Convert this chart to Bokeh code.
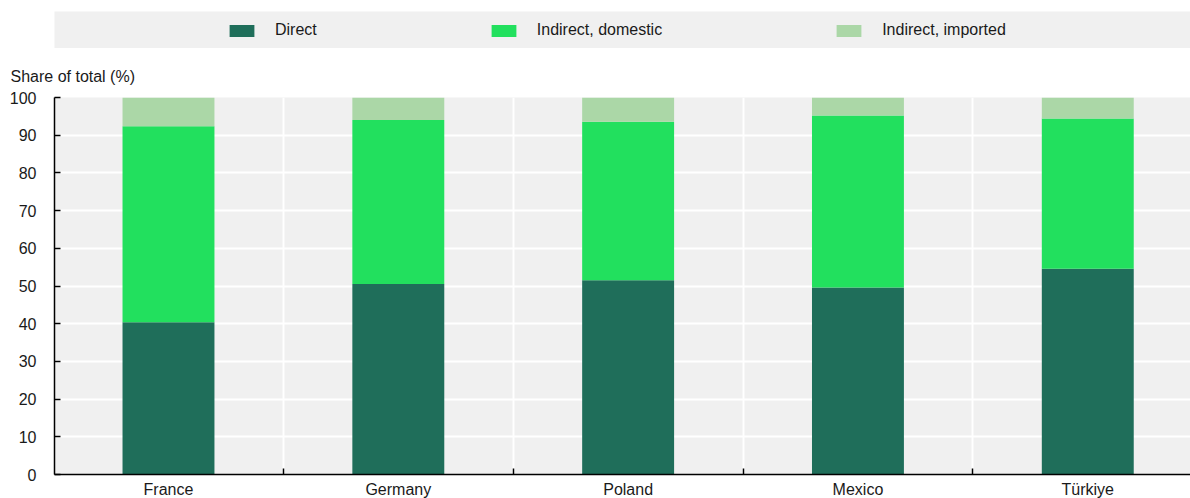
from bokeh.plotting import figure
from bokeh.models import (ColumnDataSource, Range1d, FixedTicker, Legend, Title)
from bokeh.layouts import column
from bokeh.embed import file_html
from bokeh.resources import INLINE

countries = ["France", "Germany", "Poland", "Mexico", "Türkiye"]
direct = [40.4, 50.5, 51.5, 49.6, 54.6]
indirect_domestic = [52.0, 43.5, 42.1, 45.6, 39.8]
indirect_imported = [7.6, 6.0, 6.4, 4.8, 5.6]
series_keys = ["direct", "domestic", "imported"]
series_labels = ["Direct", "Indirect, domestic", "Indirect, imported"]
colors = ["#1f6e5a", "#22e05e", "#abd7a7"]
y_ticks = list(range(0, 101, 10))

FONT = "Liberation Sans"
BG = "#f0f0f0"

xs = list(range(len(countries)))
source = ColumnDataSource(dict(x=xs, direct=direct, domestic=indirect_domestic,
                               imported=indirect_imported))

# ---- legend band figure (bars kept out of view; only the legend shows) ----
top = figure(width=1190, height=48, toolbar_location=None, output_backend="svg",
             min_border_left=54, min_border_right=0, min_border_top=11, min_border_bottom=0,
             x_range=Range1d(100, 101), y_range=Range1d(1000, 1001))
top.background_fill_color = BG
top.border_fill_color = "white"
top.outline_line_color = None
top.axis.visible = False
top.grid.visible = False
lr = top.vbar_stack(series_keys, x="x", width=0.4, source=source, color=colors,
                    line_color=None)
legend = Legend(items=[(lab, [r]) for lab, r in zip(series_labels, lr)],
                orientation="horizontal", location=(172, 9),
                spacing=171, padding=0, margin=0, glyph_width=31, glyph_height=15,
                label_standoff=18, label_text_font=FONT, label_text_font_size="16px",
                label_text_color="#1a1a1a", background_fill_alpha=0,
                border_line_color=None)
top.add_layout(legend, "center")

# ---- main chart ----
n = len(countries)
p = figure(width=1190, height=452, toolbar_location=None, output_backend="svg",
           x_range=Range1d(-0.496, n - 0.553), y_range=Range1d(0, 100),
           min_border_left=53, min_border_right=0, min_border_top=49,
           min_border_bottom=24)
p.background_fill_color = BG
p.border_fill_color = "white"
p.outline_line_color = None

p.vbar_stack(series_keys, x="x", width=0.4, source=source, color=colors,
             line_color=None)

p.add_layout(Title(text="Share of total (%)", align="left", offset=-44,
                   text_font=FONT, text_font_size="16px", text_font_style="normal",
                   text_color="#1a1a1a", standoff=25), "above")

# y axis
p.yaxis.ticker = FixedTicker(ticks=y_ticks)
p.yaxis.major_tick_in = 6
p.yaxis.major_tick_out = 0
p.yaxis.minor_tick_line_color = None
p.yaxis.axis_line_width = 1.5
p.yaxis.major_tick_line_width = 1.5
p.yaxis.axis_line_color = "black"
p.yaxis.major_tick_line_color = "black"
p.yaxis.major_label_standoff = 18
p.yaxis.major_label_text_font = FONT
p.yaxis.major_label_text_font_size = "16px"
p.yaxis.major_label_text_color = "#1a1a1a"

# x axis
p.xaxis.ticker = FixedTicker(ticks=xs, minor_ticks=[i + 0.5 for i in xs[:-1]])
p.xaxis.major_label_overrides = {i: c for i, c in zip(xs, countries)}
p.xaxis.major_tick_line_color = None
p.xaxis.minor_tick_in = 6
p.xaxis.minor_tick_out = 0
p.xaxis.minor_tick_line_color = "black"
p.xaxis.minor_tick_line_width = 1.5
p.xaxis.axis_line_width = 1.5
p.xaxis.axis_line_color = "black"
p.xaxis.major_label_standoff = 0
p.xaxis.major_label_text_font = FONT
p.xaxis.major_label_text_font_size = "16px"
p.xaxis.major_label_text_color = "#1a1a1a"

p.ygrid.grid_line_color = "white"
p.ygrid.grid_line_width = 2
p.xgrid.grid_line_color = None
p.xgrid.minor_grid_line_color = "white"
p.xgrid.minor_grid_line_width = 2

layout = column(top, p, spacing=0)
open("out.html", "w").write(file_html(layout, INLINE))
